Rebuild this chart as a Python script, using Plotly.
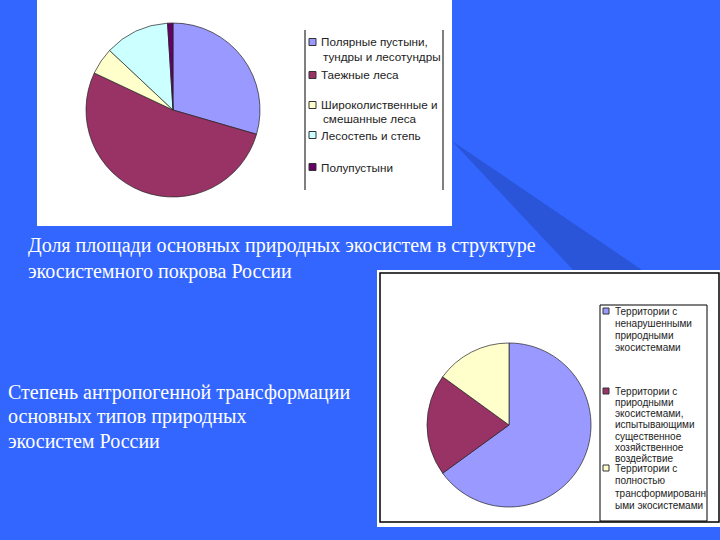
import plotly.graph_objects as go

W, H = 720, 540

# ---- data ----
labels1 = [
    "Полярные пустыни,<br>тундры и лесотундры",
    "Таежные леса",
    "Широколиственные и<br>смешанные леса",
    "Лесостепь и степь",
    "Полупустыни",
]
values1 = [29.5, 52.5, 5.0, 12.0, 1.0]
colors1 = ["#9999FF", "#993366", "#FFFFCC", "#CCFFFF", "#660066"]

labels2 = [
    "Территории с<br>ненарушенными<br>природными<br>экосистемами",
    "Территории с<br>природными<br>экосистемами,<br>испытывающими<br>существенное<br>хозяйственное<br>воздействие",
    "Территории с<br>полностью<br>трансформированн<br>ыми экосистемами",
]
values2 = [65.0, 20.0, 15.0]
colors2 = ["#9999FF", "#993366", "#FFFFCC"]

caption1 = ["Доля площади основных природных экосистем в структуре",
            "экосистемного покрова России"]
caption2 = ["Степень антропогенной трансформации",
            "основных типов природных",
            "экосистем России"]


def px(x):
    return x / W


def py(y):
    return 1 - y / H


fig = go.Figure()

fig.add_trace(go.Pie(
    labels=[l.replace("<br>", " ") for l in labels1], values=values1, sort=False,
    direction="clockwise", rotation=0,
    marker=dict(colors=colors1, line=dict(color="#222222", width=0.7)),
    textinfo="none", hoverinfo="label+percent",
    domain=dict(x=[px(86), px(260)], y=[py(198), py(22)]),
))
fig.add_trace(go.Pie(
    labels=[l.replace("<br>", " ") for l in labels2], values=values2, sort=False,
    direction="clockwise", rotation=0,
    marker=dict(colors=colors2, line=dict(color="#222222", width=0.7)),
    textinfo="none", hoverinfo="label+percent",
    domain=dict(x=[px(427), px(591)], y=[py(507), py(343)]),
))

shapes = [
    # dark diagonal wedge
    dict(type="path", xref="paper", yref="paper",
         path=f"M {px(452)},{py(141)} L {px(575)},{py(272)} L {px(645)},{py(272)} Z",
         fillcolor="#2A55D8", line=dict(width=0), layer="below"),
    # first chart white area
    dict(type="rect", xref="paper", yref="paper", x0=px(37), x1=px(452), y0=py(226), y1=py(0),
         fillcolor="white", line=dict(width=0), layer="below"),
    # second chart white area
    dict(type="rect", xref="paper", yref="paper", x0=px(377), x1=px(720), y0=py(527), y1=py(270),
         fillcolor="white", line=dict(width=0), layer="below"),
    dict(type="rect", xref="paper", yref="paper", x0=px(380), x1=px(719), y0=py(522), y1=py(273),
         fillcolor="rgba(0,0,0,0)", line=dict(color="black", width=1.5), layer="below"),
    # legend 1 frame (vertical edges)
    dict(type="line", xref="paper", yref="paper", x0=px(305), x1=px(305), y0=py(30), y1=py(190),
         line=dict(color="black", width=1)),
    dict(type="line", xref="paper", yref="paper", x0=px(443), x1=px(443), y0=py(30), y1=py(190),
         line=dict(color="black", width=1)),
    # legend 2 frame
    dict(type="rect", xref="paper", yref="paper", x0=px(600), x1=px(707), y0=py(521), y1=py(305),
         fillcolor="white", line=dict(color="black", width=1), layer="below"),
]

annotations = []
for i, t in enumerate(caption1):
    annotations.append(dict(text=t, xref="paper", yref="paper", x=px(26), y=py(246 + 25 * i),
                            xanchor="left", yanchor="middle", showarrow=False,
                            font=dict(family="Liberation Serif", size=20, color="white")))
for i, t in enumerate(caption2):
    annotations.append(dict(text=t, xref="paper", yref="paper", x=px(6), y=py(392 + 24.5 * i),
                            xanchor="left", yanchor="middle", showarrow=False,
                            font=dict(family="Liberation Serif", size=20, color="white")))

# legend 1 (built from labels1 / colors1)
leg1_y = [42, 75, 105, 135, 167]
for lab, col, y0 in zip(labels1, colors1, leg1_y):
    shapes.append(dict(type="rect", xref="paper", yref="paper",
                       x0=px(309), x1=px(316), y0=py(y0 + 3.5), y1=py(y0 - 3.5),
                       fillcolor=col, line=dict(color="#333333", width=1)))
    for k, line in enumerate(lab.split("<br>")):
        annotations.append(dict(text=line, xref="paper", yref="paper",
                                x=px(319 if k == 0 else 321), y=py(y0 + 14 * k),
                                xanchor="left", yanchor="middle", showarrow=False,
                                font=dict(family="Liberation Sans", size=11.7, color="#222222")))

# legend 2 (built from labels2 / colors2)
leg2_y = [311, 391, 468]
leg2_step = [12.3, 11.3, 12.5]
for lab, col, y0, st in zip(labels2, colors2, leg2_y, leg2_step):
    shapes.append(dict(type="rect", xref="paper", yref="paper",
                       x0=px(603), x1=px(609), y0=py(y0 + 3), y1=py(y0 - 3),
                       fillcolor=col, line=dict(color="#333333", width=1)))
    for k, line in enumerate(lab.split("<br>")):
        annotations.append(dict(text=line, xref="paper", yref="paper",
                                x=px(613), y=py(y0 + st * k),
                                xanchor="left", yanchor="middle", showarrow=False,
                                font=dict(family="Liberation Sans", size=10, color="#222222")))

fig.update_layout(
    width=W, height=H,
    margin=dict(l=0, r=0, t=0, b=0),
    paper_bgcolor="#3366FF", plot_bgcolor="#3366FF",
    shapes=shapes, annotations=annotations,
    showlegend=False,
)

fig.write_html("out.html", config={"displayModeBar": False},
               post_script="document.body.style.margin='0px';")
